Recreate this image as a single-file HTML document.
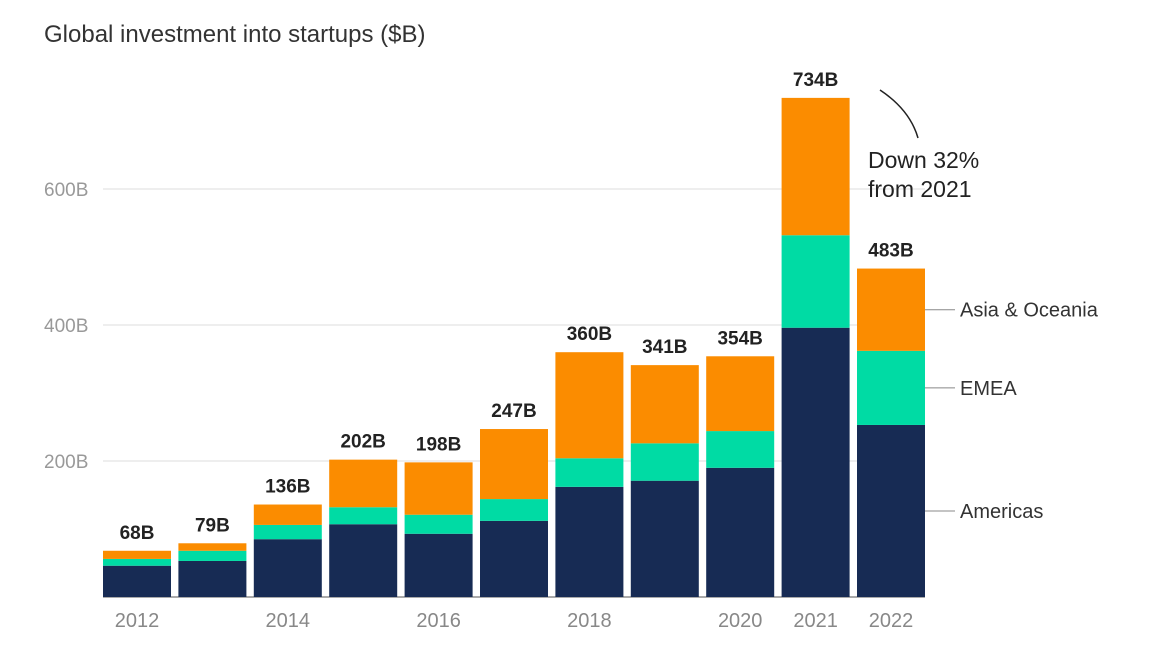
<!DOCTYPE html>
<html><head><meta charset="utf-8"><style>
body{margin:0;background:#fff;}
svg{display:block;font-family:"Liberation Sans",sans-serif;}
</style></head><body>
<svg id="chart" width="1167" height="670">
<text x="44" y="42" font-size="24" fill="#333">Global investment into startups ($B)</text>
<g id="grid"></g><g id="bars"></g><g id="labels"></g>
<path d="M880 90 Q910 110 918 138" fill="none" stroke="#222" stroke-width="1.5"/>
<text x="868" y="168" font-size="23" fill="#222"><tspan x="868">Down 32%</tspan><tspan x="868" dy="29">from 2021</tspan></text>
</svg>
<script>
const years=["2012","2013","2014","2015","2016","2017","2018","2019","2020","2021","2022"];
const shownYears=["2012","2014","2016","2018","2020","2021","2022"];
const americas=[46,53,85,107,93,112,162,171,190,396,253];
const emea=[10,15,21,25,28,32,42,55,54,136,109];
const asia=[12,11,30,70,77,103,156,115,110,202,121];
const totals=["68B","79B","136B","202B","198B","247B","360B","341B","354B","734B","483B"];
const yTicks=[200,400,600];
const seriesNames=["Americas","EMEA","Asia & Oceania"];
const colors=["#172b54","#00dba4","#fb8c00"];
const NS="http://www.w3.org/2000/svg";
const y0=597,k=0.68,x0=103,step=75.4,bw=68;
const y=v=>y0-v*k, x=i=>x0+i*step;
function mk(tag,attrs,parent,txt){const e=document.createElementNS(NS,tag);for(const a in attrs)e.setAttribute(a,attrs[a]);if(txt!=null)e.textContent=txt;parent.appendChild(e);return e;}
const grid=document.getElementById('grid'),bars=document.getElementById('bars'),labels=document.getElementById('labels');
yTicks.forEach(t=>{
 const l=mk('line',{x1:103,x2:925,y1:y(t),y2:y(t),stroke:"#ddd","stroke-width":1},grid);
 
 
 const tx=mk('text',{x:44,y:y(t)+7,"font-size":19,fill:"#999"},grid,t+"B");
 
 
});
const base=mk('line',{x1:103,x2:925,y1:y0,y2:y0,stroke:"#555","stroke-width":1},grid);


const series=[americas,emea,asia];
years.forEach((yr,i)=>{
 let acc=0;
 series.forEach((s,j)=>{
  const r=mk('rect',{x:x(i),y:y(acc+s[i]),width:bw,height:s[i]*k,fill:colors[j]},bars);
  
  
  acc+=s[i];
 });
 const t=mk('text',{x:x(i)+bw/2,y:y(acc)-12,"font-size":19,"font-weight":"bold",fill:"#222","text-anchor":"middle"},labels,totals[i]);
 
 
 if(shownYears.includes(yr)){
  const xl=mk('text',{x:x(i)+bw/2,y:627,"font-size":20,fill:"#888","text-anchor":"middle"},labels,yr);
  
  
 }
});
const li=years.length-1;let acc=0;
series.forEach((s,j)=>{
 const mid=y(acc+s[li]/2);acc+=s[li];
 const l=mk('line',{x1:925,x2:955,y1:mid,y2:mid,stroke:"#888","stroke-width":1},labels);
 
 
 const t=mk('text',{x:960,y:mid+7,"font-size":20,fill:"#333"},labels,seriesNames[j]);
 
 
});
</script>
</body></html>
